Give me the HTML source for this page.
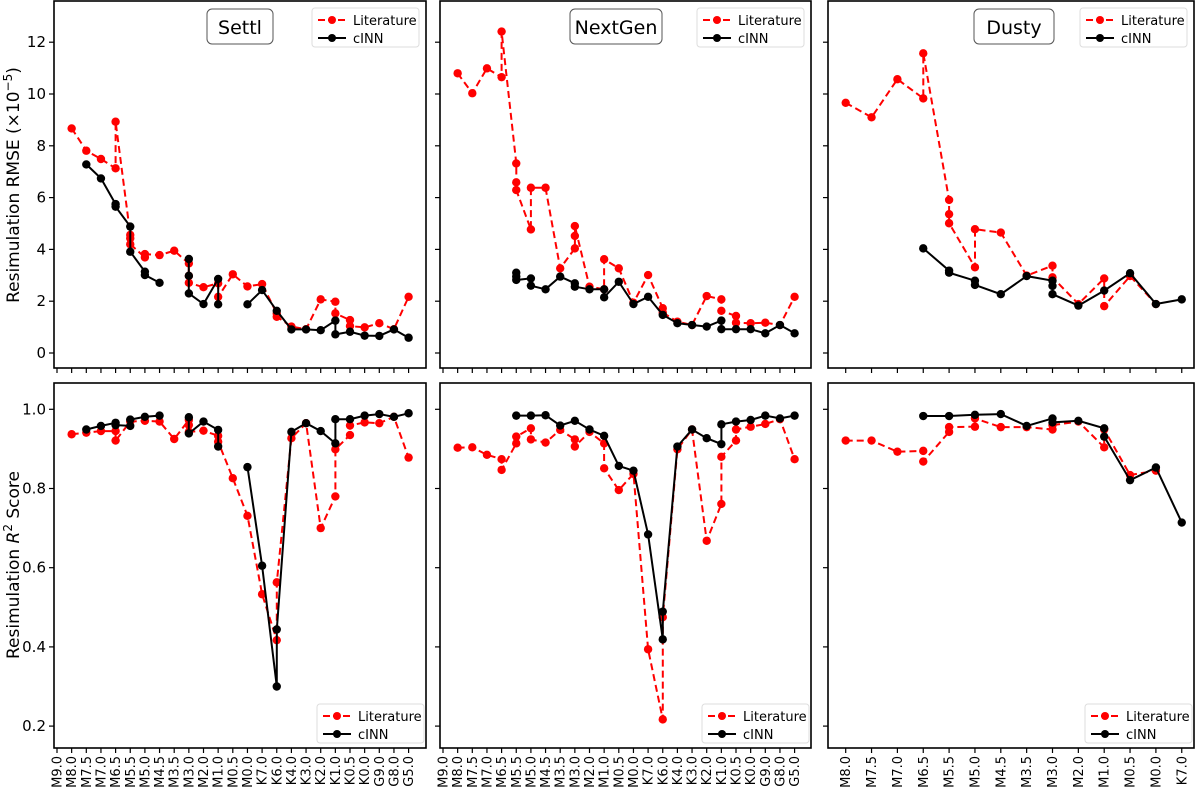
<!DOCTYPE html>
<html><head><meta charset="utf-8"><style>
html,body{margin:0;padding:0;background:#fff;}
svg{display:block;font-family:"DejaVu Sans","Liberation Sans",sans-serif;}
</style></head><body>
<svg id="chart" width="1200" height="790" viewBox="0 0 1200 790" xmlns="http://www.w3.org/2000/svg">
<text transform="translate(19,185) rotate(-90)" text-anchor="middle" font-size="17">Resimulation RMSE (×10<tspan dy="-7" font-size="12">−5</tspan><tspan dy="7">)</tspan></text>
<text transform="translate(19,565) rotate(-90)" text-anchor="middle" font-size="17">Resimulation <tspan font-style="italic">R</tspan><tspan dy="-7" font-size="12">2</tspan><tspan dy="7"> Score</tspan></text>
</svg>
<script>
const ticksFull = ["M9.0","M8.0","M7.5","M7.0","M6.5","M5.5","M5.0","M4.5","M3.5","M3.0","M2.0","M1.0","M0.5","M0.0","K7.0","K6.0","K4.0","K3.0","K2.0","K1.0","K0.5","K0.0","G9.0","G8.0","G5.0"];
const ticksDusty = ["M8.0","M7.5","M7.0","M6.5","M5.5","M5.0","M4.5","M3.5","M3.0","M2.0","M1.0","M0.5","M0.0","K7.0"];
const rmseTicks = [0,2,4,6,8,10,12];
const r2Ticks = [0.2,0.4,0.6,0.8,1.0];
const r2TickLabels = ["0.2","0.4","0.6","0.8","1.0"];

// Settl RMSE
const settlRmseLitX = [1,2,3,4,4,5,5,5,6,6,7,8,9,9,9,10,11,11,12,13,14,15,15,16,17,18,19,19,20,20,21,22,23,24];
const settlRmseLitY = [8.67,7.81,7.49,7.13,8.93,4.56,4.43,4.2,3.69,3.82,3.78,3.95,3.46,2.98,2.71,2.54,2.69,2.17,3.04,2.57,2.66,1.53,1.40,1.02,0.92,2.07,1.98,1.53,1.27,1.04,0.99,1.15,0.92,2.17];
const settlRmseCinnX = [2,3,4,4,5,5,6,6,7,null,9,9,9,10,11,11,null,13,14,15,16,17,18,19,19,20,21,22,23,24];
const settlRmseCinnY = [7.28,6.74,5.75,5.65,4.88,3.91,3.14,3.01,2.71,null,3.63,2.98,2.30,1.89,2.86,1.88,null,1.88,2.43,1.63,0.91,0.91,0.88,1.25,0.72,0.82,0.67,0.66,0.91,0.59];
// NextGen RMSE
const nextgenRmseLitX = [1,2,3,4,4,5,5,5,6,6,7,8,9,9,9,10,11,11,12,13,14,15,15,16,17,18,19,19,20,20,21,22,23,24];
const nextgenRmseLitY = [10.8,10.03,10.99,10.65,12.41,7.32,6.59,6.29,4.77,6.38,6.38,3.27,4.04,4.52,4.9,2.56,2.46,3.62,3.27,1.94,3.01,1.73,1.56,1.21,1.08,2.2,2.07,1.63,1.43,1.17,1.15,1.17,1.08,2.17];
const nextgenRmseCinnX = [5,5,5,6,6,7,8,9,9,10,11,11,12,13,14,15,16,17,18,19,19,20,21,22,23,24];
const nextgenRmseCinnY = [3.1,2.95,2.82,2.88,2.6,2.46,2.95,2.69,2.56,2.46,2.46,2.15,2.75,1.89,2.17,1.47,1.15,1.08,1.02,1.25,0.92,0.92,0.92,0.76,1.08,0.76];
// Dusty RMSE
const dustyRmseLitX = [0,1,2,3,3,4,4,4,5,5,6,7,8,8,9,10,10,11,12];
const dustyRmseLitY = [9.66,9.1,10.57,9.83,11.57,5.91,5.36,5.01,3.31,4.78,4.65,2.99,3.37,2.92,1.89,2.88,1.81,2.97,1.89];
const dustyRmseCinnX = [3,4,4,5,5,6,7,8,8,8,9,10,11,12,13];
const dustyRmseCinnY = [4.04,3.18,3.1,2.79,2.63,2.27,2.97,2.79,2.59,2.27,1.83,2.41,3.08,1.89,2.07];
// Settl R2
const settlR2LitX = [1,2,3,4,4,5,6,7,8,9,9,9,10,11,11,12,13,14,15,15,16,17,18,19,19,20,20,21,22,23,24];
const settlR2LitY = [0.937,0.941,0.945,0.945,0.921,0.969,0.971,0.969,0.925,0.973,0.960,0.943,0.946,0.933,0.918,0.826,0.731,0.533,0.417,0.563,0.927,0.965,0.70,0.78,0.899,0.935,0.959,0.967,0.965,0.981,0.878];
const settlR2CinnX = [2,3,4,4,5,5,6,7,null,9,9,10,11,11,null,13,14,15,15,16,17,18,19,19,20,21,22,23,24];
const settlR2CinnY = [0.949,0.958,0.966,0.960,0.958,0.974,0.981,0.984,null,0.980,0.939,0.969,0.948,0.906,null,0.854,0.605,0.30,0.444,0.943,0.965,0.945,0.914,0.975,0.975,0.984,0.988,0.981,0.990];
// NextGen R2
const nextgenR2LitX = [1,2,3,4,4,5,5,6,6,7,8,9,9,10,11,11,12,13,14,15,15,16,17,18,19,19,20,20,21,22,23,24];
const nextgenR2LitY = [0.903,0.904,0.885,0.874,0.847,0.914,0.931,0.952,0.924,0.916,0.948,0.924,0.906,0.943,0.914,0.851,0.796,0.837,0.394,0.217,0.475,0.899,0.949,0.668,0.761,0.880,0.921,0.949,0.956,0.963,0.975,0.874];
const nextgenR2CinnX = [5,6,7,8,9,10,11,12,13,14,15,15,16,17,18,19,19,20,21,22,23,24];
const nextgenR2CinnY = [0.984,0.984,0.985,0.959,0.971,0.949,0.933,0.857,0.845,0.684,0.419,0.489,0.906,0.949,0.927,0.912,0.962,0.969,0.973,0.984,0.977,0.984];
// Dusty R2
const dustyR2LitX = [0,1,2,3,3,4,4,5,5,6,7,8,8,9,10,10,11,12];
const dustyR2LitY = [0.921,0.921,0.893,0.895,0.868,0.943,0.955,0.956,0.977,0.955,0.955,0.949,0.960,0.969,0.904,0.949,0.834,0.845];
const dustyR2CinnX = [3,4,5,6,7,8,8,9,10,10,11,12,13];
const dustyR2CinnY = [0.983,0.983,0.986,0.988,0.958,0.977,0.967,0.971,0.952,0.931,0.821,0.853,0.714];

const NS="http://www.w3.org/2000/svg";
const svg=document.getElementById('chart');
function mk(tag,attrs,parent){const e=document.createElementNS(NS,tag);for(const k in attrs)e.setAttribute(k,attrs[k]);(parent||svg).appendChild(e);return e;}

const cols=[{l:54,r:426,x0:57,dx:14.65,ticks:ticksFull,name:'settl',title:'Settl',tb:[207,273]},
            {l:440,r:811,x0:443,dx:14.65,ticks:ticksFull,name:'nextgen',title:'NextGen',tb:[570,662]},
            {l:828,r:1194,x0:845.7,dx:25.85,ticks:ticksDusty,name:'dusty',title:'Dusty',tb:[974,1054]}];
const rows=[{t:1,b:368,y:v=>353-25.9*v,ticks:rmseTicks,labels:rmseTicks.map(String),kind:'rmse'},
            {t:383,b:748,y:v=>409.3+(1-v)*396,ticks:r2Ticks,labels:r2TickLabels,kind:'r2'}];
const data={settl:{rmse:[settlRmseLitX,settlRmseLitY,settlRmseCinnX,settlRmseCinnY],r2:[settlR2LitX,settlR2LitY,settlR2CinnX,settlR2CinnY]},
  nextgen:{rmse:[nextgenRmseLitX,nextgenRmseLitY,nextgenRmseCinnX,nextgenRmseCinnY],r2:[nextgenR2LitX,nextgenR2LitY,nextgenR2CinnX,nextgenR2CinnY]},
  dusty:{rmse:[dustyRmseLitX,dustyRmseLitY,dustyRmseCinnX,dustyRmseCinnY],r2:[dustyR2LitX,dustyR2LitY,dustyR2CinnX,dustyR2CinnY]}};

function legend(g,x,y){
  const box=mk('rect',{x:x,y:y,width:107,height:39,rx:3,fill:'#fff',stroke:'#ddd','stroke-width':1},g);
  
  
  const l1=mk('line',{x1:x+6,y1:y+12,x2:x+34,y2:y+12,stroke:'#f00','stroke-width':2,'stroke-dasharray':'7,3'},g);
  
  
  mk('circle',{cx:x+20,cy:y+12,r:4,fill:'#f00'},g);
  const t1=mk('text',{x:x+41,y:y+17,'font-size':13},g);t1.textContent='Literature';
  
  
  mk('line',{x1:x+6,y1:y+30,x2:x+34,y2:y+30,stroke:'#000','stroke-width':2},g);
  mk('circle',{cx:x+20,cy:y+30,r:4,fill:'#000'},g);
  const t2=mk('text',{x:x+41,y:y+35,'font-size':13},g);t2.textContent='cINN';
  
  
}

function series(g,X,Y,sx,sy,color,dash,nm){
  let d='',pen=false;
  for(let i=0;i<X.length;i++){
    if(X[i]===null||Y[i]===null){pen=false;continue;}
    d+=(pen?'L':'M')+sx(X[i]).toFixed(1)+','+sy(Y[i]).toFixed(1);pen=true;
  }
  const p=mk('path',{d:d,fill:'none',stroke:color,'stroke-width':2,'stroke-dasharray':dash||'none'},g);
  
  
  for(let i=0;i<X.length;i++){
    if(X[i]===null||Y[i]===null)continue;
    const c=mk('circle',{cx:sx(X[i]),cy:sy(Y[i]),r:4.2,fill:color},g);
    
    
  }
}

rows.forEach((row,ri)=>{
  cols.forEach((col,ci)=>{
    const g=mk('g',{});
    
    
    const sx=i=>col.x0+i*col.dx;
    const [lx,ly,cx,cy]=data[col.name][row.kind];
    series(g,lx,ly,sx,row.y,'#f00','7,4',col.name+'-'+row.kind+'-literature');
    series(g,cx,cy,sx,row.y,'#000',null,col.name+'-'+row.kind+'-cinn');
    const fr=mk('rect',{x:col.l,y:row.t,width:col.r-col.l,height:row.b-row.t,fill:'none',stroke:'#000','stroke-width':1.6},g);
    
    
    row.ticks.forEach((v,k)=>{
      const y=row.y(v);
      mk('line',{x1:col.l-5,y1:y,x2:col.l,y2:y,stroke:'#000','stroke-width':1.2},g);
      if(ci===0){
        const t=mk('text',{x:col.l-8,y:y+5,'text-anchor':'end','font-size':15},g);
        t.textContent=row.labels[k];
        
        
      }
    });
    col.ticks.forEach((lab,k)=>{
      const x=sx(k);
      mk('line',{x1:x,y1:row.b,x2:x,y2:row.b+5,stroke:'#000','stroke-width':1.2},g);
      if(ri===1){
        const t=mk('text',{transform:'translate('+(x+4.5)+','+(row.b+8)+') rotate(-90)','text-anchor':'end','font-size':13},g);
        t.textContent=lab;
        
        
      }
    });
    if(ri===0){
      const tb=mk('rect',{x:col.tb[0],y:9,width:col.tb[1]-col.tb[0],height:35,rx:5,fill:'#fff',stroke:'#555','stroke-width':1},g);
      
      
      const tt=mk('text',{x:(col.tb[0]+col.tb[1])/2,y:34,'text-anchor':'middle','font-size':19},g);
      tt.textContent=col.title;
      
      
      legend(g,col.r-114,8);
    } else {
      legend(g,col.r-109,704);
    }
  });
});
</script>
</body></html>
